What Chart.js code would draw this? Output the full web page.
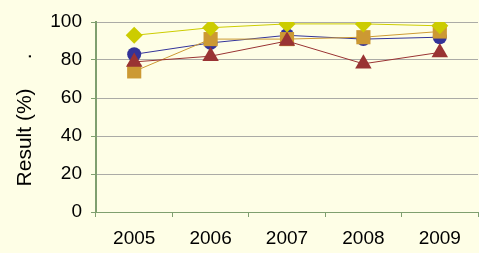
<!DOCTYPE html>
<html>
<head>
<meta charset="utf-8">
<script src="https://cdn.jsdelivr.net/npm/chart.js@4"></script>
<style>
  html, body { margin: 0; padding: 0; background: #FEFEE6; overflow: hidden; }
  #wrap { width: 488px; height: 253px; position: relative; }
</style>
</head>
<body>
<div id="wrap"><canvas id="resultChart"></canvas></div>
<script>
const years = ["2005", "2006", "2007", "2008", "2009"];
const blueCircle = [83, 89, 93, 91, 92];
const orangeSquare = [74, 91, 91, 92, 95];
const redTriangle = [79, 82, 90, 78, 84];
const yellowDiamond = [93, 97, 99, 99, 98];

// the original title carries a stray trailing full stop
const yTitle = "Result (%)     . ";

const axisGreen = "#7F9F6F";
const gridGrey = "#ABABA6";

function series(label, data, color, style, radius) {
    return {
        label: label,
        data: data,
        borderColor: color,
        backgroundColor: color,
        borderWidth: 1,
        pointStyle: style,
        pointRadius: radius,
        pointHoverRadius: radius,
        pointBorderWidth: 0,
        tension: 0
    };
}

const ctx = document.getElementById("resultChart").getContext("2d");

new Chart(ctx, {
    type: "line",
    data: {
        labels: years,
        // first dataset is drawn on top
        datasets: [
            series("D", yellowDiamond, "#CCCC00", "rectRot", 8.5),
            series("C", redTriangle, "#993333", "triangle", 9.5),
            series("B", orangeSquare, "#CC9933", "rect", 10),
            series("A", blueCircle, "#333399", "circle", 7)
        ]
    },
    options: {
        responsive: true,
        maintainAspectRatio: false,
        animation: false,
        events: [],
        layout: { padding: { top: 22, right: 3, left: 0, bottom: 0 } },
        plugins: { legend: { display: false }, tooltip: { enabled: false } },
        scales: {
            x: {
                offset: true,
                grid: {
                    offset: true,
                    drawOnChartArea: false,
                    tickLength: 5,
                    tickColor: axisGreen
                },
                border: { color: axisGreen, width: 1 },
                ticks: {
                    color: "#000",
                    padding: 10,
                    font: { family: "'Liberation Sans', Arial", size: 19 }
                },
                afterFit(scale) { scale.height = 41; }
            },
            y: {
                min: 0,
                max: 100,
                ticks: {
                    stepSize: 20,
                    color: "#000",
                    padding: 9,
                    font: { family: "'Liberation Sans', Arial", size: 19 }
                },
                grid: {
                    color: gridGrey,
                    tickLength: 5,
                    tickColor: axisGreen
                },
                border: { color: axisGreen, width: 2 },
                title: {
                    display: true,
                    text: yTitle,
                    color: "#000",
                    font: { family: "'Liberation Sans', Arial", size: 21 },
                    padding: { top: 13, bottom: 0 }
                },
                afterFit(scale) { scale.width = 96; }
            }
        }
    }
});
</script>
</body>
</html>
